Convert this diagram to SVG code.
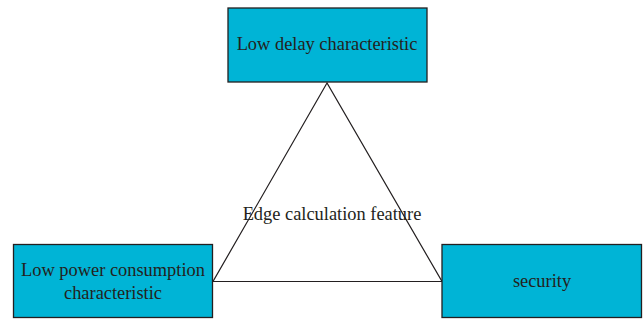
<svg xmlns="http://www.w3.org/2000/svg" width="643" height="321" viewBox="0 0 643 321">
<style>
.box{fill:#00B4D6;stroke:#231F20;stroke-width:1.3}
.t{font-family:"Liberation Serif",serif;font-size:18.4px;fill:#231F20;text-anchor:middle}
.ln{fill:none;stroke:#231F20;stroke-width:1.2}
</style>
<rect width="643" height="321" fill="#fff"/>
<g id="connectors">
<polygon class="ln" points="327,83 213,281.5 442,281.5"/>
</g>
<g id="center">
<text class="t" x="332" y="220">Edge calculation feature</text>
</g>
<g id="top">
<rect class="box" x="228" y="8" width="199" height="74"/>
<text class="t" x="327" y="50">Low delay characteristic</text>
</g>
<g id="left">
<rect class="box" x="13.5" y="244.5" width="199" height="73"/>
<text class="t" x="113" y="276">Low power consumption</text>
<text class="t" x="113" y="299">characteristic</text>
</g>
<g id="right">
<rect class="box" x="442" y="244.5" width="199.5" height="73"/>
<text class="t" x="542" y="287">security</text>
</g>
</svg>
